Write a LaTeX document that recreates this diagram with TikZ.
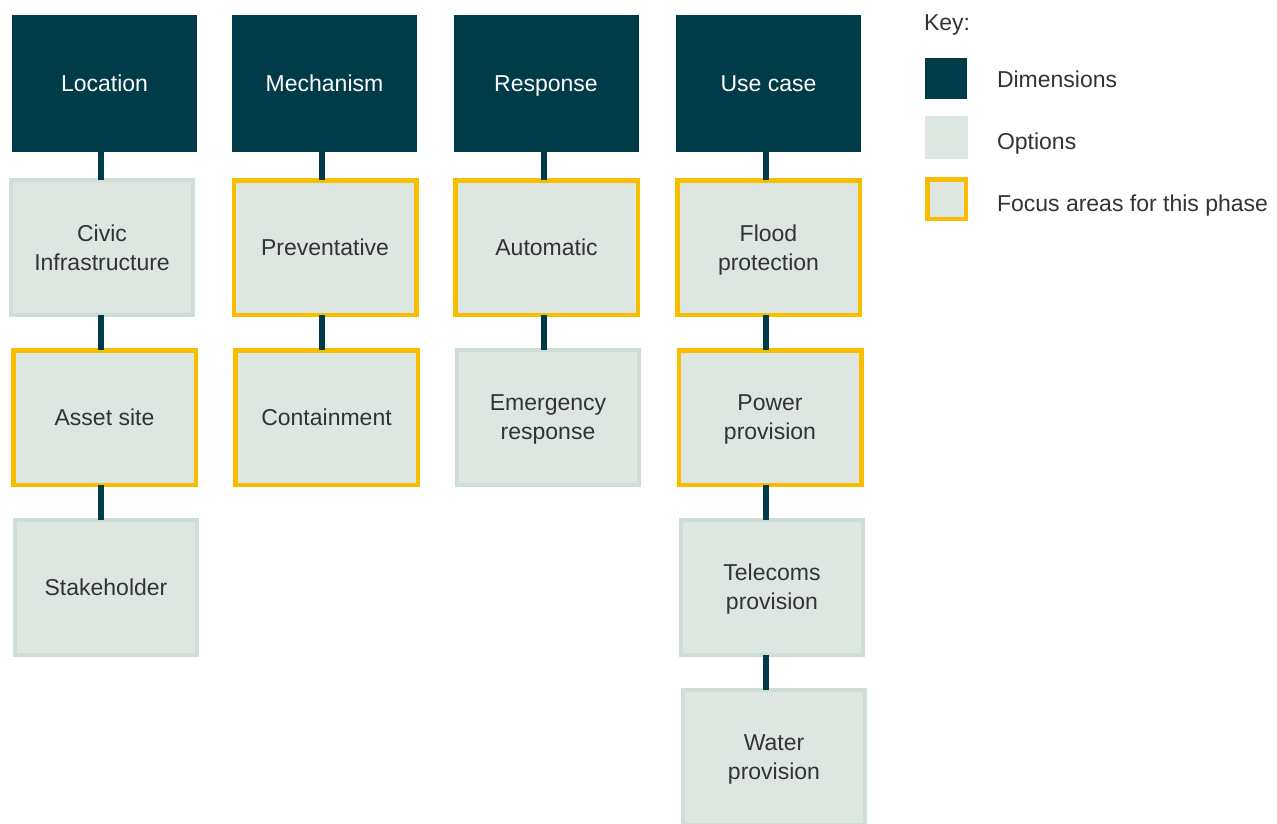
\documentclass[tikz,border=0pt]{standalone}
\usepackage{fontspec}
\setmainfont{Liberation Sans}
\definecolor{dimc}{HTML}{003B4A}
\definecolor{optc}{HTML}{DDE6E1}
\definecolor{optb}{HTML}{CEDDD5}
\definecolor{focb}{HTML}{F7BE00}
\definecolor{txt}{HTML}{333333}
\begin{document}
\begin{tikzpicture}[x=1pt,y=-1pt,
  every node/.style={inner sep=0pt,outer sep=0pt,font=\fontsize{23}{29}\selectfont,align=center},
  boxtext/.style={text depth=0pt},
  dimbox/.style={boxtext,fill=dimc,text=white,minimum width=185pt,minimum height=137pt},
  optbox/.style={boxtext,fill=optc,draw=optb,line width=4pt,text=txt,minimum width=182pt,minimum height=135pt},
  focbox/.style={boxtext,fill=optc,draw=focb,line width=4.5pt,text=txt,minimum width=182.5pt,minimum height=134.5pt},
  link/.style={draw=dimc,line width=6pt},
  keytext/.style={anchor=base west,text=txt}]
\useasboundingbox (0,0) rectangle (1277,823);
\clip (0,0) rectangle (1277,823);
% column x coordinates for connectors
\coordinate (X1) at (101,0);
\coordinate (X2) at (322,0);
\coordinate (X3) at (544,0);
\coordinate (X4) at (766,0);
% column 1
\node[dimbox] (h1) at (104.5,83.5) {Location};
\node[optbox] (c11) at (102,247.5) {Civic\\Infrastructure};
\node[focbox] (c12) at (104.5,417.5) {Asset site};
\node[optbox] (c13) at (106,587) {Stakeholder};
% column 2
\node[dimbox] (h2) at (324.5,83.5) {Mechanism};
\node[focbox] (c21) at (325,247.5) {Preventative};
\node[focbox] (c22) at (326.5,417.5) {Containment};
% column 3
\node[dimbox] (h3) at (546,83.5) {Response};
\node[focbox] (c31) at (546.5,247.5) {Automatic};
\node[optbox] (c32) at (548,417.5) {Emergency\\response};
% column 4
\node[dimbox] (h4) at (768.5,83.5) {Use case};
\node[focbox] (c41) at (768.5,247.5) {Flood\\protection};
\node[focbox] (c42) at (770,417.5) {Power\\provision};
\node[optbox] (c43) at (772,587) {Telecoms\\provision};
\node[optbox] (c44) at (774,757) {Water\\provision};
% connectors
\draw[link] (h1.south -| X1) -- (c11.north -| X1);
\draw[link] (c11.south -| X1) -- (c12.north -| X1);
\draw[link] (c12.south -| X1) -- (c13.north -| X1);
\draw[link] (h2.south -| X2) -- (c21.north -| X2);
\draw[link] (c21.south -| X2) -- (c22.north -| X2);
\draw[link] (h3.south -| X3) -- (c31.north -| X3);
\draw[link] (c31.south -| X3) -- (c32.north -| X3);
\draw[link] (h4.south -| X4) -- (c41.north -| X4);
\draw[link] (c41.south -| X4) -- (c42.north -| X4);
\draw[link] (c42.south -| X4) -- (c43.north -| X4);
\draw[link] (c43.south -| X4) -- (c44.north -| X4);
% key
\node[keytext] (keyt) at (924,30.5) {Key:};
\node[fill=dimc,minimum width=42pt,minimum height=41pt] (k1) at (946,78.5) {};
\node[fill=optc,minimum width=43pt,minimum height=43pt] (k2) at (946.5,137.5) {};
\node[fill=optc,draw=focb,line width=4.5pt,minimum width=38.5pt,minimum height=39.5pt] (k3) at (946.5,199) {};
\node[keytext] (kt1) at (997,87) {Dimensions};
\node[keytext] (kt2) at (997,149.5) {Options};
\node[keytext] (kt3) at (997,211.5) {Focus areas for this phase};
\end{tikzpicture}
\end{document}
